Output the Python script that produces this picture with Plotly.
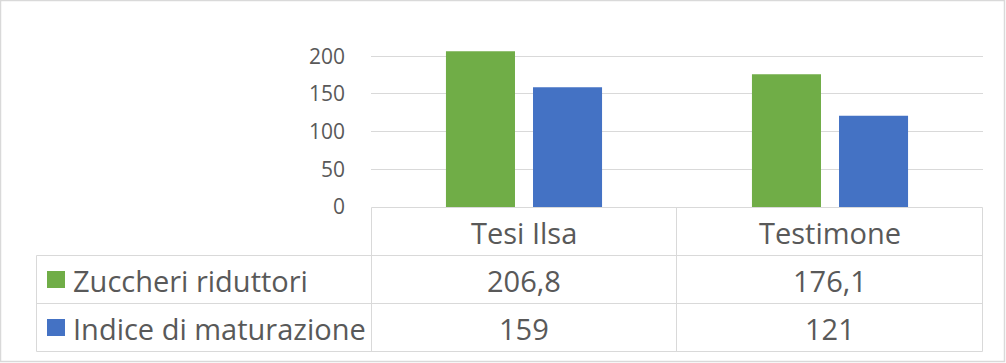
import plotly.graph_objects as go

categories = ["Tesi Ilsa", "Testimone"]
series_names = ["Zuccheri riduttori", "Indice di maturazione"]
zuccheri = [206.8, 176.1]
indice = [159, 121]
zuccheri_labels = ["206,8", "176,1"]
indice_labels = ["159", "121"]
y_ticks = [0, 50, 100, 150, 200]

colors = ["#70AD47", "#4472C4"]
text_color = "#595959"
line_color = "#D9D9D9"
FONT = "Open Sans"
TABLE_SIZE = 29

W, H = 1006, 363
L, R, T, B = 371, 23, 45, 156
pw = W - L - R
ph = H - T - B

def px_x(px):
    return (px - L) / pw

def px_y(py):
    return (H - B - py) / ph

fig = go.Figure()
for name, vals, col in zip(series_names, [zuccheri, indice], colors):
    fig.add_trace(go.Bar(x=categories, y=vals, name=name, marker_color=col,
                         marker_line_width=0, showlegend=False))

shapes = []
def line(x0, y0, x1, y1):
    shapes.append(dict(type="line", xref="paper", yref="paper",
                       x0=px_x(x0), y0=px_y(y0), x1=px_x(x1), y1=px_y(y1),
                       line=dict(color=line_color, width=1)))

row_y = [207.5, 255.5, 303.5, 351.5]
left_x = 36.5
col_x = [371.5, 676.5, 982.5]

# horizontal table lines
line(col_x[0], row_y[0], col_x[-1], row_y[0])
for yy in row_y[1:]:
    line(left_x, yy, col_x[-1], yy)
# vertical lines
line(left_x, row_y[1], left_x, row_y[3])
for xx in col_x:
    line(xx, row_y[0], xx, row_y[3])

# outer border
shapes.append(dict(type="rect", xref="paper", yref="paper",
                   x0=px_x(0.5), y0=px_y(0.5), x1=px_x(1004.5), y1=px_y(361.5),
                   line=dict(color=line_color, width=1.5), fillcolor="rgba(0,0,0,0)"))

# legend keys
for i, col in enumerate(colors):
    cy = (row_y[i + 1] + row_y[i + 2]) / 2
    shapes.append(dict(type="rect", xref="paper", yref="paper",
                       x0=px_x(47), y0=px_y(cy - 8.5), x1=px_x(65), y1=px_y(cy + 8.5),
                       line=dict(width=0), fillcolor=col))

annotations = []
# category headers
for c in categories:
    annotations.append(dict(x=c, xref="x", y=px_y((row_y[0] + row_y[1]) / 2 + 1), yref="paper",
                            text=c, showarrow=False, xanchor="center", yanchor="middle",
                            font=dict(family=FONT, size=TABLE_SIZE, color=text_color)))
# series rows
for i, (name, labels) in enumerate(zip(series_names, [zuccheri_labels, indice_labels])):
    cy = (row_y[i + 1] + row_y[i + 2]) / 2 + 1
    annotations.append(dict(x=px_x(71), xref="paper", y=px_y(cy), yref="paper",
                            text=name, showarrow=False, xanchor="left", yanchor="middle",
                            font=dict(family=FONT, size=TABLE_SIZE, color=text_color)))
    for c, lab in zip(categories, labels):
        annotations.append(dict(x=c, xref="x", y=px_y(cy), yref="paper",
                                text=lab, showarrow=False, xanchor="center", yanchor="middle",
                                font=dict(family=FONT, size=TABLE_SIZE, color=text_color)))

fig.update_layout(
    width=W, height=H,
    margin=dict(l=L, r=R, t=T, b=B, pad=0),
    paper_bgcolor="white", plot_bgcolor="white",
    barmode="group", bargap=0.431, bargroupgap=0.207,
    xaxis=dict(showticklabels=False, showgrid=False, zeroline=False, showline=False,
               range=[-0.5, 1.5], fixedrange=True),
    yaxis=dict(range=[0, 215], tickvals=y_ticks, showgrid=True, gridcolor=line_color,
               gridwidth=1, zeroline=False, showline=False, ticks="",
               ticklabelstandoff=25,
               tickfont=dict(family=FONT, size=21, color=text_color)),
    shapes=shapes, annotations=annotations,
)

fig.write_html("out.html")
